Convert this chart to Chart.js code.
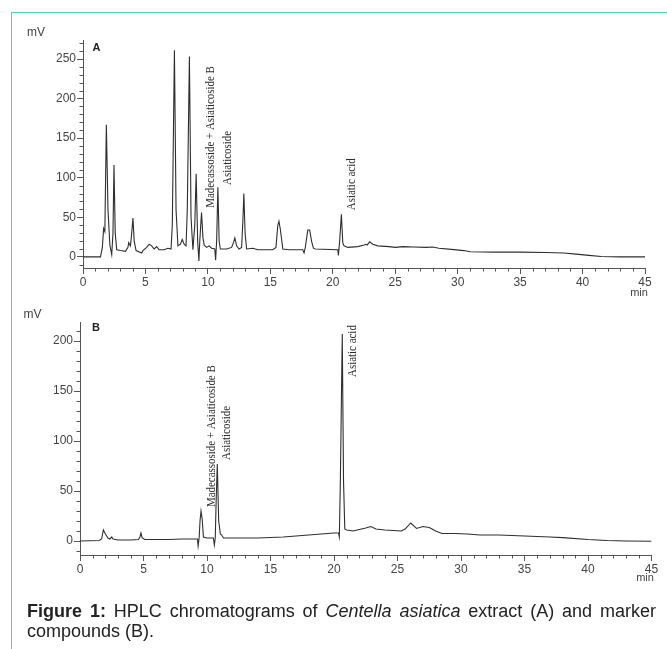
<!DOCTYPE html>
<html><head><meta charset="utf-8">
<script src="https://cdn.jsdelivr.net/npm/chart.js@4.4.1/dist/chart.umd.min.js"></script>
<style>
html,body{margin:0;padding:0;background:#fff;width:667px;height:649px;overflow:hidden;position:relative;font-family:"Liberation Sans",Arial,sans-serif}
#frame{position:absolute;left:10.5px;top:12px;width:700px;height:700px;border-left:1.5px solid #4fd1c0;border-top:1.5px solid #4fd1c0}
#cA{position:absolute;left:0;top:0}
#cB{position:absolute;left:0;top:290px}
#cap{position:absolute;left:27px;top:601px;width:629px;font-size:18px;line-height:20px;color:#222}
#cap .l1{text-align:justify;text-align-last:justify;white-space:nowrap}
</style></head>
<body>
<div id="frame"></div>
<canvas id="cA" width="667" height="310"></canvas>
<canvas id="cB" width="667" height="300"></canvas>
<div id="cap"><div class="l1"><b>Figure 1:</b> HPLC chromatograms of <i>Centella asiatica</i> extract (A) and marker</div><div>compounds (B).</div></div>
<script>
// ---- data ----
const timeA = [0,1.4,1.55,1.65,1.75,1.87,2.0,2.15,2.3,2.4,2.48,2.58,2.7,3.0,3.4,3.6,3.66,3.8,3.9,4.0,4.1,4.25,4.7,4.8,5.1,5.3,5.5,5.7,5.9,6.1,6.5,6.8,7.05,7.15,7.32,7.45,7.6,7.8,7.95,8.1,8.25,8.35,8.52,8.65,8.8,8.95,9.06,9.18,9.28,9.35,9.49,9.6,9.7,9.9,10.1,10.3,10.55,10.62,10.7,10.8,10.9,11.0,11.5,11.9,12.05,12.16,12.3,12.5,12.7,12.8,12.88,12.98,13.1,13.6,14.0,15.2,15.45,15.6,15.69,15.8,16.0,16.5,17.6,17.7,17.8,18.0,18.15,18.3,18.45,18.6,20.4,20.45,20.55,20.69,20.8,20.9,21.2,22.0,22.5,22.65,22.75,22.95,23.2,23.6,24.5,25.0,25.6,26.5,27.5,28.0,28.5,29.5,30.5,31.0,33.0,35.0,37.0,38.5,39.5,40.5,41.5,43.0,45.0];
const mvA   = [0,0,12,36,32,167,60,15,3,30,116,30,9,8,7,12,18,14,30,49,20,8,5,8,12,16,14,10,13,9,9,11,10,40,261,60,14,16,22,16,14,60,253,50,9,40,105,20,-5,20,56,25,15,12,14,11,10,-4,20,88,20,10,10,12,18,24,14,10,12,45,80,30,10,11,9,9,12,40,45,35,10,9,9,5,12,34,34,20,11,10,9,2,20,54,18,14,12,13,15,16,15,19,16,14,13,12,13,12.5,12,12.5,11,9.5,8,6.5,6,6,5.5,5,3.5,2,0.5,0,0];
const timeB = [0,1.5,1.7,1.84,2.0,2.2,2.35,2.5,2.6,3.0,4.0,4.6,4.72,4.8,4.9,5.1,6.0,7.0,8.0,9.0,9.25,9.3,9.38,9.45,9.53,9.62,9.72,10.0,10.5,10.58,10.65,10.72,10.81,10.92,11.05,11.15,11.3,12.0,13.0,14.0,15.0,16.0,17.0,18.0,19.0,20.0,20.35,20.42,20.5,20.65,20.75,20.85,21.0,21.5,22.0,22.5,22.9,23.3,24.0,25.3,25.6,26.04,26.5,27.0,27.5,28.0,28.5,29.5,30.5,31.5,33.0,35.0,37.0,38.0,40.0,41.5,43.0,45.0];
const mvB   = [0,0.5,2,11,7,3,2,4,2,1,1,1.5,4,8,3,1.5,1.5,1.5,2,2,2,-5,3,20,30,22,4,3,3,-4,3,40,77,20,7,6,3,3,3,3,3.5,4,5,6,7,8,8,4,60,207,60,12,11,10,11.5,13,14.5,12,11,10,12,18,12.5,14.5,13.5,10,7.5,7.5,7,6,6,5,4,3.4,1.5,0.5,0,-0.3];
const xTickLabels = [0,5,10,15,20,25,30,35,40,45];
const yTickLabelsA = [0,50,100,150,200,250];
const yTickLabelsB = [0,50,100,150,200];
const peakNamesA = ['Madecassoside + Asiaticoside B','Asiaticoside','Asiatic acid'];
const peakNamesB = ['Madecassoside + Asiaticoside B','Asiaticoside','Asiatic acid'];

// ---- annotation anchors (data coordinates: time, mV) ----
const notePosA = [[10.26,62],[11.63,91],[21.49,59]];
const notePosB = [[10.37,34],[11.55,81],[21.47,164]];

const decor = {
  id:'decor',
  afterDraw(chart, args, o){
    const ctx = chart.ctx, xs = chart.scales.x, ys = chart.scales.y, a = chart.chartArea;
    ctx.save();
    ctx.strokeStyle = '#555'; ctx.lineWidth = 1;
    ctx.beginPath();
    for (let t = 0; t <= 45; t++) {
      if (t % 5 === 0) continue;
      const px = Math.round(xs.getPixelForValue(t)) + 0.5;
      ctx.moveTo(px, a.bottom); ctx.lineTo(px, a.bottom + 3.5);
    }
    for (let v = Math.ceil(ys.min/10)*10; v <= ys.max; v += 10) {
      if (v % 50 === 0) continue;
      const py = Math.round(ys.getPixelForValue(v)) + 0.5;
      ctx.moveTo(a.left - 3.5, py); ctx.lineTo(a.left, py);
    }
    ctx.stroke();
    // rotated peak names
    ctx.fillStyle = '#2a2a2a';
    ctx.font = '12px "Liberation Serif", "Times New Roman", serif';
    ctx.textAlign = 'left'; ctx.textBaseline = 'middle';
    o.names.forEach((n, i) => {
      const [t, v] = o.pos[i];
      ctx.save();
      ctx.translate(xs.getPixelForValue(t), ys.getPixelForValue(v));
      ctx.rotate(-Math.PI/2);
      ctx.scale(0.91, 1);
      ctx.fillText(n, 0, 0);
      ctx.restore();
    });
    // unit labels and panel letter
    ctx.fillStyle = '#444';
    ctx.font = '12px "Liberation Sans", Arial, sans-serif';
    ctx.textAlign = 'center';
    ctx.fillText('mV', a.left + o.mv[0], a.top + o.mv[1]);
    ctx.font = '11px "Liberation Sans", Arial, sans-serif';
    ctx.fillText('min', a.right + o.min[0], a.bottom + o.min[1]);
    ctx.fillStyle = '#222';
    ctx.font = 'bold 11px "Liberation Sans", Arial, sans-serif';
    ctx.fillText(o.panel, a.left + o.pl[0], a.top + o.pl[1]);
    ctx.restore();
  }
};

function makeChart(id, times, mv, yMin, yMax, yTicks, yWidth, pad, deco) {
  const pts = times.map((t, i) => ({x: t, y: mv[i]}));
  return new Chart(document.getElementById(id), {
    type: 'scatter',
    data: {datasets: [{data: pts, showLine: true, borderColor: '#2e2e2e', borderWidth: 1.1, pointRadius: 0, tension: 0}]},
    options: {
      responsive: false, animation: false, events: [],
      layout: {padding: pad},
      plugins: {legend: {display: false}, tooltip: {enabled: false}, decor: deco},
      scales: {
        x: {
          type: 'linear', min: 0, max: 45,
          afterBuildTicks: s => { s.ticks = xTickLabels.map(v => ({value: v})); },
          afterFit: s => { s.height = 30; },
          border: {color: '#555', width: 1},
          grid: {drawOnChartArea: false, drawTicks: true, tickLength: 6, tickColor: '#555'},
          ticks: {color: '#444', font: {family: '"Liberation Sans", Arial, sans-serif', size: 12}, padding: 1, maxRotation: 0, autoSkip: false}
        },
        y: {
          type: 'linear', min: yMin, max: yMax,
          afterBuildTicks: s => { s.ticks = yTicks.map(v => ({value: v})); },
          afterFit: s => { s.width = yWidth; },
          border: {color: '#555', width: 1},
          grid: {drawOnChartArea: false, drawTicks: true, tickLength: 6, tickColor: '#555'},
          ticks: {color: '#444', font: {family: '"Liberation Sans", Arial, sans-serif', size: 12}, padding: 1}
        }
      }
    },
    plugins: [decor]
  });
}

makeChart('cA', timeA, mvA, -14, 274, yTickLabelsA, 83, {top: 40, left: 0, right: 22, bottom: 12},
  {names: peakNamesA, pos: notePosA, panel: 'A', pl: [13.5, 8], mv: [-47, -7], min: [-6, 25]});
makeChart('cB', timeB, mvB, -14, 219, yTickLabelsB, 80, {top: 32, left: 0, right: 15.5, bottom: 5},
  {names: peakNamesB, pos: notePosB, panel: 'B', pl: [16, 6], mv: [-47.5, -7], min: [-6.5, 23]});
</script>
</body></html>
